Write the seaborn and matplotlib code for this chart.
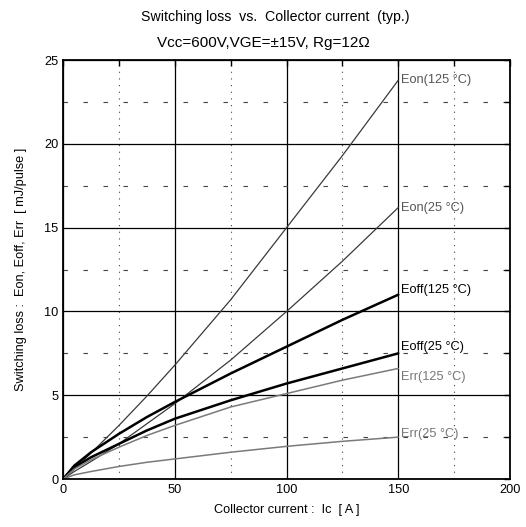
import matplotlib
matplotlib.use("Agg")
import matplotlib.pyplot as plt
import seaborn as sns
import pandas as pd
from matplotlib.ticker import MultipleLocator

ic = [0, 5, 12.5, 25, 37.5, 50, 75, 100, 125, 150]
eon_125 = [0, 0.6, 1.55, 3.2, 4.95, 6.8, 10.7, 15.0, 19.3, 23.8]
eon_25 = [0, 0.45, 1.05, 2.1, 3.3, 4.5, 7.1, 10.0, 13.0, 16.2]
eoff_125 = [0, 0.8, 1.6, 2.7, 3.7, 4.6, 6.3, 7.9, 9.5, 11.0]
eoff_25 = [0, 0.7, 1.3, 2.1, 2.9, 3.6, 4.7, 5.7, 6.6, 7.5]
err_125 = [0, 0.6, 1.15, 1.9, 2.6, 3.2, 4.3, 5.1, 5.9, 6.6]
err_25 = [0, 0.25, 0.45, 0.75, 1.0, 1.2, 1.6, 1.95, 2.25, 2.5]

labels = ["Eon(125 °C)", "Eon(25 °C)", "Eoff(125 °C)", "Eoff(25 °C)", "Err(125 °C)", "Err(25 °C)"]
values = [eon_125, eon_25, eoff_125, eoff_25, err_125, err_25]

styles = [
    ("#3a3a3a", 0.9, "#555555", 0.0),
    ("#3a3a3a", 0.9, "#555555", 0.0),
    ("black", 1.8, "black", 0.3),
    ("black", 1.8, "black", 0.4),
    ("#7a7a7a", 1.1, "#777777", -0.5),
    ("#7a7a7a", 1.1, "#777777", 0.2),
]

sns.set_style("white")
plt.rcParams['font.family'] = ['Liberation Sans', 'DejaVu Sans']
plt.rcParams['text.color'] = 'black'

fig = plt.figure(figsize=(5.26, 5.27), dpi=100)
ax = fig.add_axes([0.12, 0.091, 0.8496, 0.795])

for name, vals, (color, lw, tcol, dy) in zip(labels, values, styles):
    df = pd.DataFrame({"Ic": ic, "E": vals})
    sns.lineplot(data=df, x="Ic", y="E", ax=ax, color=color, linewidth=lw)
    ax.text(ic[-1] + 1.0, vals[-1] + dy, name, fontsize=9.2, color=tcol,
            ha="left", va="center")

ax.set_xlim(0, 200)
ax.set_ylim(0, 25)
ax.xaxis.set_major_locator(MultipleLocator(50))
ax.xaxis.set_minor_locator(MultipleLocator(25))
ax.yaxis.set_major_locator(MultipleLocator(5))
ax.yaxis.set_minor_locator(MultipleLocator(2.5))
ax.grid(which="major", color="black", linewidth=0.9, linestyle="-")
ax.xaxis.grid(which="minor", color="#444444", linewidth=0.8, linestyle=(0, (1, 5)))
ax.yaxis.grid(which="minor", color="#444444", linewidth=0.8, linestyle=(0, (4, 14)))
ax.tick_params(which="both", direction="in", top=True, right=True,
               labelsize=9.2, length=4, width=1, labelcolor="black", color="black")
for s in ax.spines.values():
    s.set_color("black")
    s.set_linewidth(1.3)

ax.set_xlabel("Collector current :  Ic  [ A ]", fontsize=9.2, labelpad=6, color="black")
ax.set_ylabel("Switching loss :  Eon, Eoff, Err  [ mJ/pulse ]", fontsize=9.2, labelpad=12, color="black")
fig.text(0.523, 0.967, "Switching loss  vs.  Collector current  (typ.)",
         ha="center", va="center", fontsize=10.2)
fig.text(0.501, 0.918, "Vcc=600V,VGE=±15V, Rg=12Ω", ha="center", va="center", fontsize=11)

fig.savefig("out.png", dpi=100)
